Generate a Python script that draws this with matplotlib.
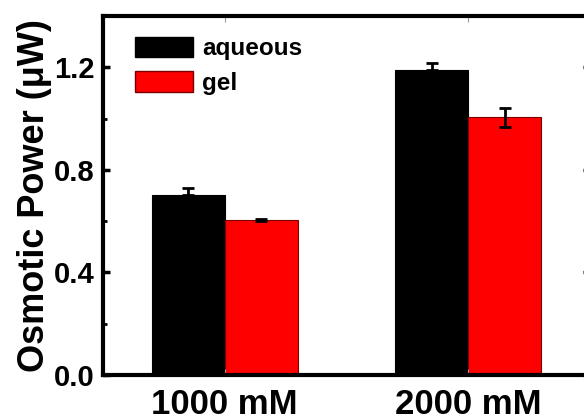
import numpy as np
import matplotlib
matplotlib.use('Agg')
from matplotlib import pyplot as plt
from matplotlib.patches import Patch

groups = ['1000 mM', '2000 mM']
series = ['aqueous', 'gel']
aqueous = [0.70, 1.19]
aqueous_err = [0.03, 0.025]
gel = [0.605, 1.005]
gel_err = [0.005, 0.038]

plt.rcParams['font.family'] = ['Liberation Sans', 'DejaVu Sans']
plt.rcParams['font.weight'] = 'bold'

fig = plt.figure(figsize=(5.84, 4.19), dpi=100)
# right edge of the axes runs past the figure like in the source
ax = fig.add_axes([103/584, (419-375)/419, 487/584, (375-16)/419])

x = np.arange(1, len(groups) + 1)
w = 0.3
ax.bar(x - w/2, aqueous, w, color='black', edgecolor='black', linewidth=0.8)
ax.bar(x + w/2, gel, w, color='#ff0000', edgecolor='#7a0000', linewidth=0.8)
ax.errorbar(x - w/2, aqueous, yerr=[[0, 0], aqueous_err], fmt='none',
            ecolor='black', elinewidth=2, capsize=4, capthick=2)
ax.errorbar(x + w/2, gel, yerr=gel_err, fmt='none',
            ecolor='black', elinewidth=2, capsize=4, capthick=2)

ax.set_xlim(0.5, 2.5)
ax.set_ylim(0, 1.4)
ax.set_xticks(x)
ax.set_xticklabels(groups, fontsize=25, fontweight='bold')
ax.set_yticks([0.0, 0.4, 0.8, 1.2])
ax.set_yticks([0.2, 0.6, 1.0], minor=True)
ax.set_yticklabels(['0.0', '0.4', '0.8', '1.2'], fontsize=21, fontweight='bold')
ax.tick_params(axis='y', which='major', direction='in', length=5, width=2.5,
               right=True, pad=6)
ax.tick_params(axis='y', which='minor', direction='in', length=3, width=2,
               right=True)
ax.tick_params(axis='x', which='major', direction='in', length=4, width=0.8,
               top=True, pad=9, color='#999999')
for s in ax.spines.values():
    s.set_linewidth(3)

ax.set_ylabel('Osmotic Power (\u03bcW)', fontsize=26, fontweight='bold')
ax.yaxis.set_label_coords(-51/487, 0.5)

handles = [Patch(facecolor='black', edgecolor='black'),
           Patch(facecolor='#ff0000', edgecolor='#7a0000')]
ax.legend(handles, series, loc='upper left', bbox_to_anchor=(32/487, 1 - 21/359),
          frameon=False, handlelength=2.4, handleheight=0.9,
          handletextpad=0.35, labelspacing=0.45, borderaxespad=0, borderpad=0,
          prop={'weight': 'bold', 'size': 17.5})

fig.savefig('out.png', dpi=100)
